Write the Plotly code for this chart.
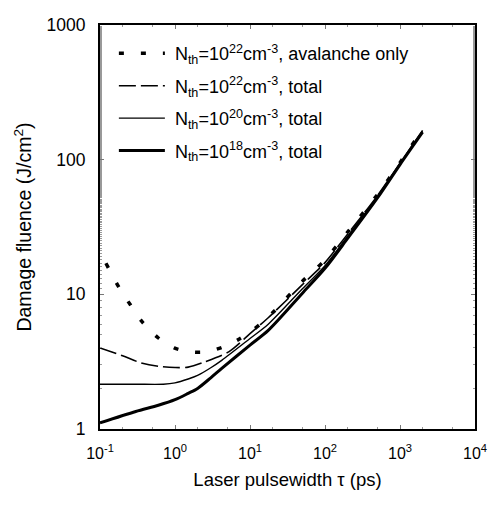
import plotly.graph_objects as go

# Data (pulsewidth in ps, fluence in J/cm^2)
t_aval = [0.12, 0.18, 0.254, 0.366, 0.6, 0.975, 1.57, 2.6, 4.24, 6.9, 11.1, 20, 50, 100, 200, 500, 1000, 2000]
f_aval = [17.0, 11.2, 8.36, 6.24, 4.74, 4.0, 3.74, 3.74, 4.04, 4.59, 5.46, 7.3, 12.5, 18.0, 29.0, 55.0, 95.0, 168.0]

t_22 = [0.1, 0.2, 0.35, 0.6, 1.0, 1.5, 2.5, 5.2, 10, 17.5, 50, 100, 200, 500, 1000, 2000]
f_22 = [4.0, 3.5, 3.1, 2.92, 2.86, 2.88, 3.15, 3.74, 5.1, 6.7, 11.8, 17.2, 28.0, 54.0, 94.0, 165.0]

t_20 = [0.1, 0.3, 0.7, 1.0, 1.5, 2.0, 3.0, 4.24, 10, 17.5, 50, 100, 200, 500, 1000, 2000]
f_20 = [2.15, 2.15, 2.15, 2.2, 2.35, 2.5, 2.85, 3.25, 4.7, 6.0, 11.0, 16.3, 27.0, 53.0, 93.0, 162.0]

t_18 = [0.1, 0.3, 0.6, 1.0, 1.5, 2.0, 3.0, 4.24, 10, 17.5, 50, 100, 200, 500, 1000, 2000]
f_18 = [1.11, 1.35, 1.5, 1.65, 1.84, 2.0, 2.4, 2.83, 4.2, 5.4, 10.2, 15.6, 26.0, 52.0, 92.0, 160.0]

names = [
    "\u00a0N<sub>th</sub>=10<sup>22</sup>cm<sup>-3</sup>, avalanche only",
    "\u00a0N<sub>th</sub>=10<sup>22</sup>cm<sup>-3</sup>, total",
    "\u00a0N<sub>th</sub>=10<sup>20</sup>cm<sup>-3</sup>, total",
    "\u00a0N<sub>th</sub>=10<sup>18</sup>cm<sup>-3</sup>, total",
]

x_tickvals = [0.1, 1, 10, 100, 1000, 10000]
x_ticktext = ["10<sup>-1</sup>", "10<sup>0</sup>", "10<sup>1</sup>", "10<sup>2</sup>", "10<sup>3</sup>", "10<sup>4</sup>"]
y_tickvals = [1, 10, 100, 1000]
y_ticktext = ["1", "10", "100", "1000"]

FONT = "Liberation Sans, Arial, Helvetica, sans-serif"

fig = go.Figure()
fig.add_trace(go.Scatter(x=t_aval, y=f_aval, mode="lines", name=names[0], legendgroup="a",
                         line=dict(color="black", width=3.5, dash="5px,17px", shape="spline", smoothing=0.8)))
fig.add_trace(go.Scatter(x=t_22, y=f_22, mode="lines", name=names[1], legendgroup="b",
                         line=dict(color="black", width=1.6, dash="17px,5px", shape="spline", smoothing=0.8)))
fig.add_trace(go.Scatter(x=t_20, y=f_20, mode="lines", name=names[2], legendgroup="c",
                         line=dict(color="black", width=1.4, shape="spline", smoothing=0.8)))
fig.add_trace(go.Scatter(x=t_18, y=f_18, mode="lines", name=names[3], legendgroup="d",
                         line=dict(color="black", width=3, shape="spline", smoothing=0.8)))

axis_common = dict(
    type="log", showgrid=False, zeroline=False,
    showline=True, linecolor="black", linewidth=2, mirror="ticks",
    ticks="inside", ticklen=4, tickwidth=1, tickcolor="#777",
    minor=dict(ticks="inside", ticklen=2, tickcolor="#999", tickwidth=1),
    ticklabeloverflow="allow",
)

fig.update_layout(
    width=486, height=488,
    margin=dict(l=92, r=15, t=7, b=67),
    paper_bgcolor="white", plot_bgcolor="white",
    font=dict(family=FONT, color="black"),
    xaxis=dict(range=[-1, 4], tickvals=x_tickvals, ticktext=x_ticktext,
               tickfont=dict(size=16), ticklabelstandoff=9,
               title=dict(text="Laser pulsewidth τ (ps)", font=dict(size=18.5), standoff=12),
               **axis_common),
    yaxis=dict(range=[0, 3], tickvals=y_tickvals, ticktext=y_ticktext,
               tickfont=dict(size=17.5), ticklabelstandoff=9,
               title=dict(text="Damage fluence (J/cm<sup>2</sup>)", font=dict(size=19.5), standoff=10),
               **axis_common),
    showlegend=True,
    legend=dict(x=0.037, y=0.975, xanchor="left", yanchor="top",
                font=dict(size=18), bgcolor="rgba(0,0,0,0)",
                traceorder="grouped", tracegroupgap=6, itemwidth=46),
)

fig.write_html("out.html")
